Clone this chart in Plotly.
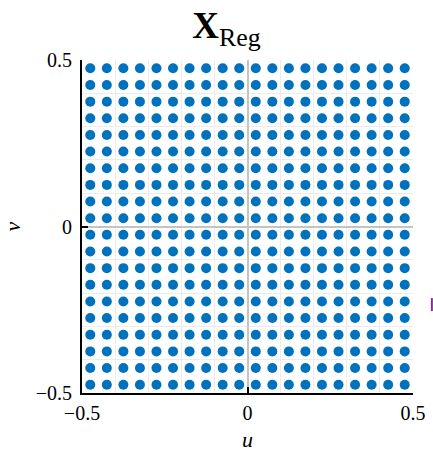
import plotly.graph_objects as go

# Regular sampling grid: cell centres of a 20 x 20 partition of [-0.5, 0.5]^2
u_coords = [-0.475, -0.425, -0.375, -0.325, -0.275, -0.225, -0.175, -0.125, -0.075, -0.025,
            0.025, 0.075, 0.125, 0.175, 0.225, 0.275, 0.325, 0.375, 0.425, 0.475]
v_coords = [-0.475, -0.425, -0.375, -0.325, -0.275, -0.225, -0.175, -0.125, -0.075, -0.025,
            0.025, 0.075, 0.125, 0.175, 0.225, 0.275, 0.325, 0.375, 0.425, 0.475]

tick_values = [-0.5, 0, 0.5]
tick_labels = ["\u22120.5", "0", "0.5"]

u_pts = [u for v in v_coords for u in u_coords]
v_pts = [v for v in v_coords for u in u_coords]

serif = "Liberation Serif, DejaVu Serif, serif"

fig = go.Figure(
    go.Scatter(
        x=u_pts, y=v_pts, mode="markers",
        marker=dict(color="#0072BD", size=10, line=dict(width=0)),
        hoverinfo="skip",
    )
)

axis_common = dict(
    range=[-0.5, 0.5],
    automargin=False,
    tickmode="array", tickvals=tick_values, ticktext=tick_labels,
    ticks="inside", ticklen=6, tickwidth=2, tickcolor="black",
    showline=True, linecolor="black", linewidth=2,
    showgrid=True, gridcolor="#d4d4d4", gridwidth=1,
    zeroline=True, zerolinecolor="#c4c4c4", zerolinewidth=1.5,
    minor=dict(tickmode="linear", tick0=0, dtick=0.1, showgrid=True,
               gridcolor="#ececec", gridwidth=1, ticks=""),
    tickfont=dict(family=serif, size=20, color="black"),
    fixedrange=True,
    layer="above traces",
)

fig.update_xaxes(
    **axis_common,
    title=dict(text="<i>u</i>", font=dict(family=serif, size=22, color="black"), standoff=16),
    ticklabelstandoff=1,
)
fig.update_yaxes(
    **axis_common,
    title=dict(text="<i>v</i>", font=dict(family=serif, size=22, color="black"), standoff=40),
    ticklabelstandoff=4,
)

fig.update_layout(
    width=433, height=452,
    margin=dict(l=82, r=20, t=60, b=59),
    plot_bgcolor="white", paper_bgcolor="white",
    showlegend=False,
    title=dict(
        text="<b>X</b><sub>Reg</sub>",
        font=dict(family=serif, size=37, color="black"),
        x=0.523, xanchor="center", xref="container",
        y=0.915, yanchor="bottom", yref="container",
    ),
    shapes=[
        dict(type="rect", xref="paper", yref="paper",
             x0=1.054, x1=1.060, y0=0.246, y1=0.285,
             fillcolor="#7E2F8E", line=dict(width=0)),
    ],
)

fig.write_html("out.html")
